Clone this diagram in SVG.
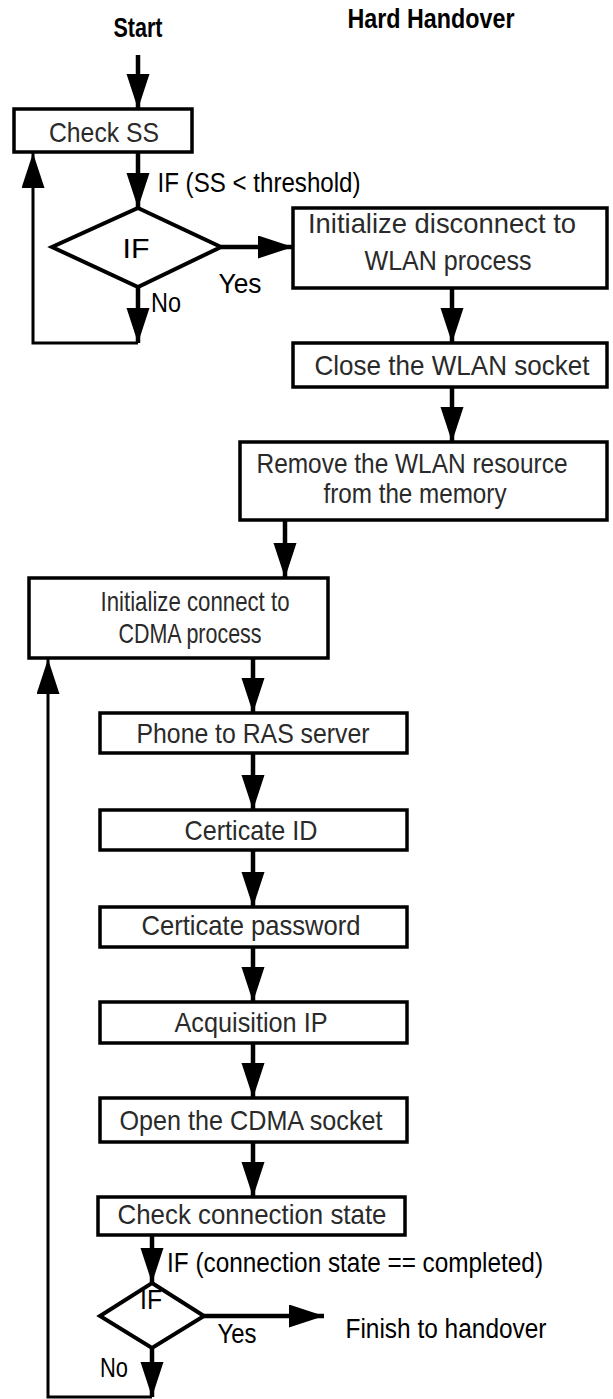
<svg xmlns="http://www.w3.org/2000/svg" width="613" height="1399" viewBox="0 0 613 1399">
<style>
.box{fill:#fff;stroke:#000;stroke-width:3.5}
.dia{fill:#fff;stroke:#000;stroke-width:4}
.bt{font-family:"Liberation Sans",Arial,sans-serif;font-size:28px;fill:#2a2a2a;text-anchor:middle}
.lb{font-family:"Liberation Sans",Arial,sans-serif;font-size:27px;fill:#000;text-anchor:middle}
.ttl{font-weight:bold}
.ar{fill:none;stroke:#000;stroke-width:4.5;marker-end:url(#ah)}
.lpa{fill:none;stroke:#000;stroke-width:3;marker-end:url(#ah)}
</style>
<defs>
<marker id="ah" markerUnits="userSpaceOnUse" markerWidth="36" markerHeight="24" refX="35" refY="11.5" orient="auto">
<path d="M0,0 L35,11.5 L0,23 z" fill="#000"/>
</marker>
</defs>
<rect width="613" height="1399" fill="#fff"/>

<g id="title">
<text class="lb ttl" x="431" y="28" textLength="167" lengthAdjust="spacingAndGlyphs">Hard Handover</text>
</g>
<g id="start">
<text class="lb ttl" x="138" y="37" textLength="49" lengthAdjust="spacingAndGlyphs">Start</text>
</g>

<g id="connectors">
<line class="ar" x1="138" y1="55" x2="138" y2="109"/>
<line class="ar" x1="138" y1="152" x2="138" y2="208"/>
<line class="ar" x1="221" y1="247" x2="293" y2="247"/>
<line class="ar" x1="138" y1="287" x2="138" y2="343"/>
<polyline class="lpa" points="138,343 33,343 33,153"/>
<line class="ar" x1="452" y1="288" x2="452" y2="343"/>
<line class="ar" x1="452" y1="387" x2="452" y2="442"/>
<line class="ar" x1="285" y1="520" x2="285" y2="578"/>
<line class="ar" x1="253" y1="658" x2="253" y2="713"/>
<line class="ar" x1="253" y1="753" x2="253" y2="810"/>
<line class="ar" x1="253" y1="850" x2="253" y2="907"/>
<line class="ar" x1="253" y1="947" x2="253" y2="1002"/>
<line class="ar" x1="253" y1="1043" x2="253" y2="1098"/>
<line class="ar" x1="253" y1="1142" x2="253" y2="1197"/>
<line class="ar" x1="152" y1="1235" x2="152" y2="1283"/>
<line class="ar" x1="204" y1="1316" x2="324" y2="1316"/>
<line class="ar" x1="152" y1="1348" x2="152" y2="1397"/>
<polyline class="lpa" points="152,1397 48,1397 48,659"/>
</g>

<g id="check-ss">
<rect class="box" x="14" y="109" width="178" height="43"/>
<text class="bt" x="104" y="142" textLength="110" lengthAdjust="spacingAndGlyphs">Check SS</text>
</g>
<g id="cond1-label">
<text class="lb" x="259" y="192" textLength="203" lengthAdjust="spacingAndGlyphs">IF (SS &lt; threshold)</text>
</g>
<g id="if1">
<polygon class="dia" points="138,208 221,247 138,287 52,247"/>
<text class="lb" x="136" y="258" textLength="27" lengthAdjust="spacingAndGlyphs">IF</text>
<text class="lb" x="240" y="293" textLength="43" lengthAdjust="spacingAndGlyphs">Yes</text>
<text class="lb" x="166" y="312" textLength="30" lengthAdjust="spacingAndGlyphs">No</text>
</g>
<g id="init-disconnect">
<rect class="box" x="293" y="208" width="314" height="80"/>
<text class="bt" x="442" y="233" textLength="268" lengthAdjust="spacingAndGlyphs">Initialize disconnect to</text>
<text class="bt" x="448" y="270" textLength="167" lengthAdjust="spacingAndGlyphs">WLAN process</text>
</g>
<g id="close-wlan">
<rect class="box" x="293" y="343" width="314" height="44"/>
<text class="bt" x="452" y="375" textLength="275" lengthAdjust="spacingAndGlyphs">Close the WLAN socket</text>
</g>
<g id="remove-wlan">
<rect class="box" x="240" y="442" width="367" height="78"/>
<text class="bt" x="412" y="473" textLength="311" lengthAdjust="spacingAndGlyphs">Remove the WLAN resource</text>
<text class="bt" x="415" y="503" textLength="183" lengthAdjust="spacingAndGlyphs">from the memory</text>
</g>
<g id="init-connect">
<rect class="box" x="29" y="578" width="299" height="80"/>
<text class="bt" x="195" y="611" textLength="189" lengthAdjust="spacingAndGlyphs">Initialize connect to</text>
<text class="bt" x="190" y="643" textLength="143" lengthAdjust="spacingAndGlyphs">CDMA process</text>
</g>
<g id="phone-ras">
<rect class="box" x="100" y="713" width="307" height="40"/>
<text class="bt" x="253" y="743" textLength="233" lengthAdjust="spacingAndGlyphs">Phone to RAS server</text>
</g>
<g id="cert-id">
<rect class="box" x="100" y="810" width="307" height="40"/>
<text class="bt" x="251" y="840" textLength="133" lengthAdjust="spacingAndGlyphs">Certicate ID</text>
</g>
<g id="cert-pw">
<rect class="box" x="100" y="907" width="307" height="40"/>
<text class="bt" x="251" y="935" textLength="219" lengthAdjust="spacingAndGlyphs">Certicate password</text>
</g>
<g id="acq-ip">
<rect class="box" x="100" y="1002" width="307" height="41"/>
<text class="bt" x="251" y="1032" textLength="153" lengthAdjust="spacingAndGlyphs">Acquisition IP</text>
</g>
<g id="open-cdma">
<rect class="box" x="100" y="1098" width="307" height="44"/>
<text class="bt" x="251" y="1130" textLength="263" lengthAdjust="spacingAndGlyphs">Open the CDMA socket</text>
</g>
<g id="check-conn">
<rect class="box" x="98" y="1197" width="307" height="38"/>
<text class="bt" x="252" y="1224" textLength="269" lengthAdjust="spacingAndGlyphs">Check connection state</text>
</g>
<g id="cond2-label">
<text class="lb" x="355" y="1272" textLength="376" lengthAdjust="spacingAndGlyphs">IF (connection state == completed)</text>
</g>
<g id="if2">
<polygon class="dia" points="152,1283 204,1316 152,1348 100,1316"/>
<text class="lb" x="151" y="1309" textLength="22" lengthAdjust="spacingAndGlyphs">IF</text>
<text class="lb" x="237" y="1343" textLength="39" lengthAdjust="spacingAndGlyphs">Yes</text>
<text class="lb" x="114" y="1377" textLength="28" lengthAdjust="spacingAndGlyphs">No</text>
</g>
<g id="finish">
<text class="lb" x="446" y="1338" textLength="201" lengthAdjust="spacingAndGlyphs">Finish to handover</text>
</g>
</svg>
